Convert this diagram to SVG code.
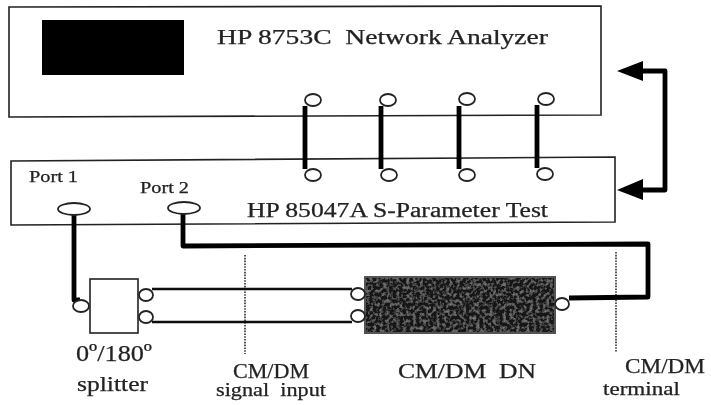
<svg xmlns="http://www.w3.org/2000/svg" width="711" height="405" viewBox="0 0 711 405">
<style>
text{font-family:"Liberation Serif","Times New Roman",serif;fill:#222;stroke:#222;stroke-width:.25;white-space:pre}
.box{fill:#fff;stroke:#222;stroke-width:1.6}
.c{fill:#fff;stroke:#222;stroke-width:1.8}
.th{fill:none;stroke:#000;stroke-width:4.8;stroke-linejoin:round}
.md{fill:none;stroke:#111;stroke-width:2.4}
.dot{fill:none;stroke:#222;stroke-width:1.5;stroke-dasharray:1.6 1.2}
</style>
<defs>
<filter id="b" x="-5%" y="-5%" width="110%" height="110%"><feGaussianBlur stdDeviation="0.5"/></filter>
<filter id="n" x="0" y="0" width="100%" height="100%"><feTurbulence type="fractalNoise" baseFrequency="0.3" numOctaves="2" seed="4"/><feColorMatrix values="0 0 0 0 0.32 0 0 0 0 0.32 0 0 0 0 0.32 1.6 0 0 0 -0.72"/><feComposite in2="SourceGraphic" operator="in" result="t"/><feMerge><feMergeNode in="SourceGraphic"/><feMergeNode in="t"/></feMerge></filter>
</defs>
<rect width="711" height="405" fill="#fff"/>
<g filter="url(#b)">
<g id="analyzer">
<path class="box" d="M9 7L601 6V115L9 117Z"/>
<rect x="42" y="20" width="142" height="55" fill="#000"/>
<text x="217" y="44" font-size="20.5" textLength="331" lengthAdjust="spacingAndGlyphs">HP 8753C  Network Analyzer</text>
</g>
<g id="test-set">
<path class="box" d="M11 161L615 157V222L11 225Z"/>
<text x="29" y="182" font-size="16" textLength="49" lengthAdjust="spacingAndGlyphs">Port 1</text>
<text x="140" y="193" font-size="16" textLength="49" lengthAdjust="spacingAndGlyphs">Port 2</text>
<text x="247" y="217" font-size="20" textLength="301" lengthAdjust="spacingAndGlyphs">HP 85047A S-Parameter Test</text>
</g>
<g id="splitter">
<rect class="box" x="90" y="279" width="48" height="54"/>
<text x="76" y="361" font-size="24" textLength="76" lengthAdjust="spacingAndGlyphs">0º/180º</text>
<text x="77" y="391" font-size="20" textLength="71" lengthAdjust="spacingAndGlyphs">splitter</text>
</g>
<g id="dn">
<rect x="365" y="277" width="190" height="56" fill="#161616" filter="url(#n)"/>
<rect x="365" y="277" width="190" height="56" fill="none" stroke="#555" stroke-width="2"/>
<text x="398" y="378" font-size="20" textLength="138" lengthAdjust="spacingAndGlyphs">CM/DM  DN</text>
</g>
<g id="signal-input-plane">
<path class="dot" d="M245 255V354"/>
<text x="233" y="378" font-size="20" textLength="76" lengthAdjust="spacingAndGlyphs">CM/DM</text>
<text x="216" y="396" font-size="18" textLength="110" lengthAdjust="spacingAndGlyphs">signal  input</text>
</g>
<g id="terminal-plane">
<path class="dot" d="M616 252V352"/>
<text x="625" y="373" font-size="20" textLength="80" lengthAdjust="spacingAndGlyphs">CM/DM</text>
<text x="603" y="395" font-size="18" textLength="77" lengthAdjust="spacingAndGlyphs">terminal</text>
</g>
<g id="connectors">
<path class="th" d="M305 106V169M381 106V169M459 106V169M537 105V168"/>
<path class="th" d="M74 214V300H80"/>
<path class="th" d="M183 214V246L648 244V297L569 298"/>
<path class="md" d="M152 289H352M152 322H352"/>
<path class="th" d="M640 71H665V190H640"/>
<path d="M617 71L643 61V81Z M617 190L643 179V200Z" fill="#000"/>
</g>
<g id="terminals">
<ellipse class="c" cx="313" cy="100" rx="8" ry="6"/><ellipse class="c" cx="388" cy="100" rx="8" ry="6"/><ellipse class="c" cx="467" cy="99" rx="8" ry="6"/><ellipse class="c" cx="546" cy="99" rx="8" ry="6"/>
<ellipse class="c" cx="313" cy="175" rx="8" ry="6"/><ellipse class="c" cx="389" cy="175" rx="8" ry="6"/><ellipse class="c" cx="467" cy="175" rx="8" ry="6"/><ellipse class="c" cx="545" cy="174" rx="8" ry="6"/>
<ellipse class="c" cx="74" cy="209" rx="16" ry="6"/><ellipse class="c" cx="184" cy="208" rx="16" ry="6"/>
<ellipse class="c" cx="81" cy="306" rx="8" ry="6"/>
<ellipse class="c" cx="146" cy="295" rx="7" ry="6"/><ellipse class="c" cx="146" cy="317" rx="7" ry="6"/>
<ellipse class="c" cx="358" cy="294" rx="7" ry="6"/><ellipse class="c" cx="358" cy="316" rx="7" ry="6"/>
<ellipse class="c" cx="562" cy="304" rx="7" ry="6"/>
</g>
</g>
</svg>
